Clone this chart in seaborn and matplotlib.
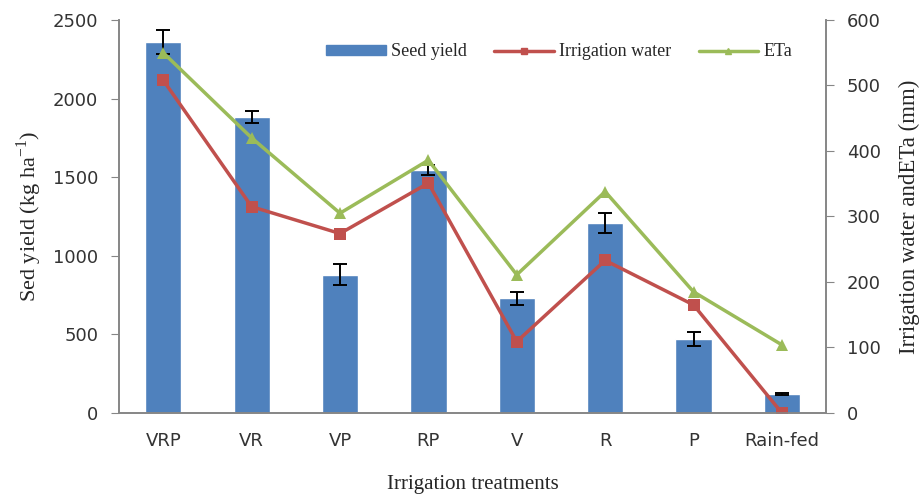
import numpy as np
import pandas as pd
import matplotlib.pyplot as plt
import seaborn as sns
from matplotlib.patches import Patch
from matplotlib.lines import Line2D

treatments = ["VRP", "VR", "VP", "RP", "V", "R", "P", "Rain-fed"]
seed_yield = [2360, 1883, 880, 1546, 730, 1210, 470, 119]
seed_err = [75, 40, 65, 30, 40, 65, 45, 5]
irrigation_water = [508, 315, 274, 351, 109, 233, 165, 0]
eta = [550, 420, 305, 386, 211, 338, 185, 104]

blue = "#4F81BD"
red = "#C0504D"
green = "#9BBB59"
grey = "#868686"

df = pd.DataFrame({
    "Treatment": treatments,
    "Seed yield": seed_yield,
    "err": seed_err,
    "Irrigation water": irrigation_water,
    "ETa": eta,
})
df["pos"] = np.arange(len(df))

sns.set_style("white")
plt.rcParams["font.family"] = ["DejaVu Sans"]

fig = plt.figure(figsize=(9.23, 4.95), dpi=100)
ax = fig.add_axes([0.129, 0.1657, 0.766, 0.7939])

sns.barplot(data=df, x="Treatment", y="Seed yield", color=blue, width=0.41,
            saturation=1, ax=ax, errorbar=None)
ax.errorbar(df["pos"], df["Seed yield"], yerr=df["err"], fmt="none",
            ecolor="black", elinewidth=1.4, capsize=5, capthick=1.4, zorder=5)

ax.set_ylim(0, 2500)
ax.set_yticks(range(0, 2501, 500))
ax.set_xlim(-0.5, len(treatments) - 0.5)

ax2 = ax.twinx()
sns.lineplot(data=df, x="pos", y="Irrigation water", color=red, marker="s",
             markersize=8, markeredgewidth=0, linewidth=2.5, ax=ax2)
sns.lineplot(data=df, x="pos", y="ETa", color=green, marker="^",
             markersize=9, markeredgewidth=0, linewidth=2.5, ax=ax2)
ax2.set_ylim(0, 600)
ax2.set_yticks(range(0, 601, 100))
ax2.set_xlim(-0.5, len(treatments) - 0.5)

serif = ["Liberation Serif", "DejaVu Serif"]
ax.set_xlabel("Irrigation treatments", fontsize=15, family=serif, labelpad=18)
ax.set_ylabel(r"Sed yield (kg ha$^{\mathregular{-1}}$)", fontsize=16,
              family=serif, labelpad=6)
ax2.set_ylabel("Irrigation water andETa (mm)", fontsize=16.5, family=serif,
               labelpad=13)

# category ticks: labels centred, tick marks at boundaries
ax.set_xticks(np.arange(len(treatments)))
ax.set_xticklabels(treatments, fontsize=13, color="#333333")
ax.tick_params(axis="x", which="major", length=0, pad=14)
ax.set_xticks(np.arange(len(treatments) + 1) - 0.5, minor=True)
ax.tick_params(axis="x", which="minor", length=7, color=grey, direction="out")

ax.tick_params(axis="y", labelsize=13, labelcolor="#333333", length=6,
               color=grey, direction="out", left=True, pad=9)
ax2.tick_params(axis="y", labelsize=13, labelcolor="#333333", length=6,
                color=grey, direction="out", right=True, pad=9)
ax2.set_xlabel("")

for a in (ax, ax2):
    a.spines["top"].set_visible(False)
    for s in ("left", "right", "bottom"):
        a.spines[s].set_color(grey)
        a.spines[s].set_linewidth(1.2)

handles = [
    Patch(facecolor=blue, edgecolor=blue),
    Line2D([], [], color=red, marker="s", markersize=5, linewidth=2.5),
    Line2D([], [], color=green, marker="^", markersize=5, linewidth=2.5),
]
fig.legend(handles, ["Seed yield", "Irrigation water", "ETa"], ncol=3,
           loc="center", bbox_to_anchor=(0.606, 0.895), frameon=False,
           prop={"family": serif, "size": 13}, handlelength=3.3,
           handleheight=0.5, columnspacing=1.5, handletextpad=0.3)

fig.savefig("out.png", dpi=100)
